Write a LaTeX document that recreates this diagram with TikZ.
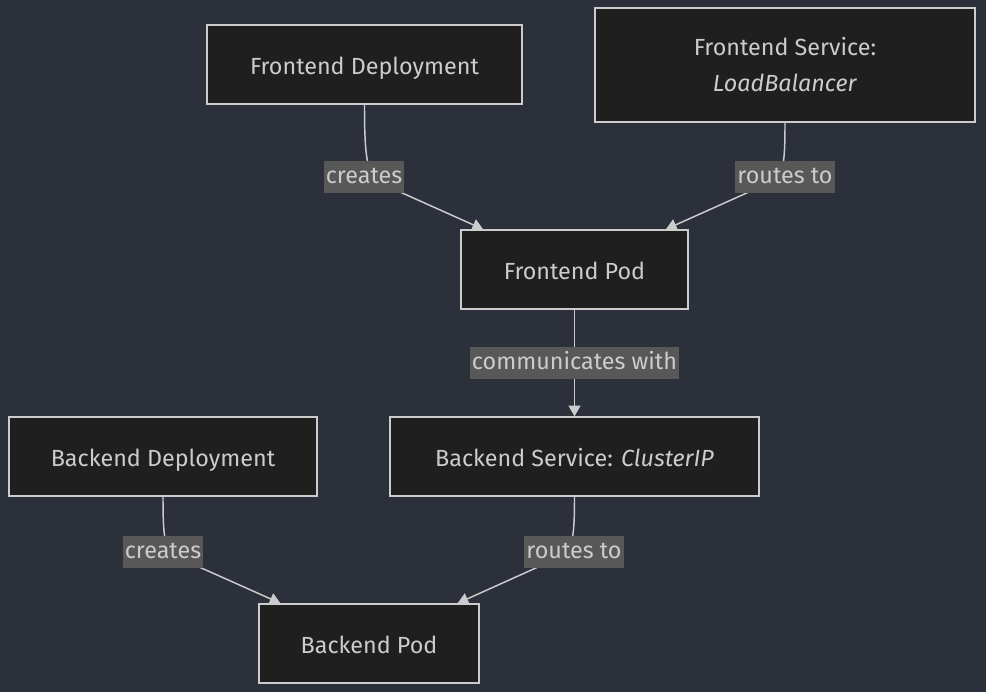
\documentclass[tikz,border=0pt]{standalone}
\usepackage{fontspec}
\setmainfont{Fira Sans}
\usepackage{tikz}
\usetikzlibrary{arrows.meta,positioning,calc}
\definecolor{bgc}{HTML}{2B303B}
\definecolor{boxfill}{HTML}{1F1F1F}
\definecolor{linec}{HTML}{CCCCCC}
\definecolor{lblfill}{HTML}{585858}
\tikzset{
  >=Stealth,
  block/.style={rectangle, draw=linec, fill=boxfill, text=linec, line width=1.1pt, minimum height=59.25pt, align=center, font=\fontsize{17.5}{27}\selectfont},
  oneline/.style={text height=18.5pt, text depth=3.5pt},
  lbl/.style={rectangle, fill=lblfill, text=linec, inner xsep=1.5pt, inner ysep=4pt, text height=12.5pt, text depth=3.5pt, font=\fontsize{17.5}{20}\selectfont},
  arrow/.style={-{Triangle[length=8pt,width=9pt]}, draw=linec, line width=1.1pt}
}
\begin{document}
\begin{tikzpicture}[x=0.75pt, y=-0.75pt]
    \fill[bgc] (0,0) rectangle (986,692);
    \useasboundingbox (0,0) rectangle (986,692);

    \node[block, oneline, minimum width=236.25pt] (fdep) at (364.5,64.5) {Frontend Deployment};
    \node[block, minimum width=285pt, minimum height=85.5pt] (fsvc) at (785,65) {Frontend Service:\\ \textit{LoadBalancer}};
    \node[block, oneline, minimum width=170.25pt] (fpod) at (574.5,269.5) {Frontend Pod};
    \node[block, oneline, minimum width=231pt] (bdep) at (163,456.5) {Backend Deployment};
    \node[block, oneline, minimum width=276.75pt] (bsvc) at (574.5,456.5) {Backend Service: \textit{ClusterIP}};
    \node[block, oneline, minimum width=165pt] (bpod) at (369,643.5) {Backend Pod};

    % label points on the curved edges
    \coordinate (k1) at (364,177);
    \coordinate (k2) at (785,177);
    \coordinate (k4) at (163,552);
    \coordinate (k5) at (574,552);

    \draw[arrow] (fdep.south) .. controls +(0,45) and +(-14,-6) .. ($(k1)+(16,6)$)
      -- ($(fpod.north west)!0.1!(fpod.north east)$) node[lbl] at (k1) {creates};
    \draw[arrow] (fsvc.south) .. controls +(0,45) and +(14,-6) .. ($(k2)+(-16,6)$)
      -- ($(fpod.north west)!0.9!(fpod.north east)$) node[lbl] at (k2) {routes to};
    \draw[arrow] (fpod.south) -- node[lbl] {communicates with} (bsvc.north);
    \draw[arrow] (bdep.south) .. controls +(0,45) and +(-14,-6) .. ($(k4)+(16,6)$)
      -- ($(bpod.north west)!0.1!(bpod.north east)$) node[lbl] at (k4) {creates};
    \draw[arrow] (bsvc.south) .. controls +(0,45) and +(14,-6) .. ($(k5)+(-16,6)$)
      -- ($(bpod.north west)!0.9!(bpod.north east)$) node[lbl] at (k5) {routes to};
  \end{tikzpicture}
\end{document}
